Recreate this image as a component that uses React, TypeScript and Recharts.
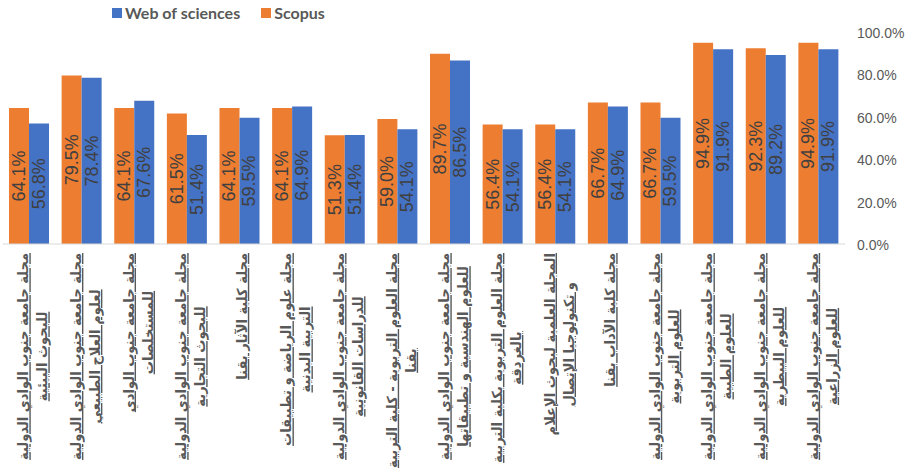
import React from "react";
import { BarChart, Bar, XAxis, YAxis, LabelList } from "recharts";

// Journal titles, one or two lines each
const journals: string[][] = [
  ["مجلة جامعة جنوب الوادي الدولية", "للبحوث البيئية"],
  ["مجلة جامعة جنوب الوادي الدولية", "لعلوم العلاج الطبيعي"],
  ["مجلة جامعة جنوب الوادي", "للمستخلصات"],
  ["مجلة جامعة جنوب الوادي الدولية", "للبحوث التجارية"],
  ["مجلة كلية الآثار بقنا"],
  ["مجلة علوم الرياضة و تطبيقات", "التربية البدنية"],
  ["مجلة جامعة جنوب الوادي الدولية", "للدراسات القانونية"],
  ["مجلة العلوم التربوية - كلية التربية", "بقنا"],
  ["مجلة جامعة جنوب الوادي الدولية", "للعلوم الهندسية و تطبيقاتها"],
  ["مجلة العلوم التربوية بكلية التربية", "بالغردقة"],
  ["المجلة العلمية لبحوث الإعلام", "و تكنولوجيا الإتصال"],
  ["مجلة كلية الآداب بقنا"],
  ["مجلة جامعة جنوب الوادي الدولية", "للعلوم التربوية"],
  ["مجلة جامعة جنوب الوادي الدولية", "للعلوم الطبية"],
  ["مجلة جامعة جنوب الوادي الدولية", "للعلوم البيطرية"],
  ["مجلة جامعة جنوب الوادي الدولية", "للعلوم الزراعية"],
];

const scopus = [64.1, 79.5, 64.1, 61.5, 64.1, 64.1, 51.3, 59.0, 89.7, 56.4, 56.4, 66.7, 66.7, 94.9, 92.3, 94.9];
const webOfSciences = [56.8, 78.4, 67.6, 51.4, 59.5, 64.9, 51.4, 54.1, 86.5, 54.1, 54.1, 64.9, 59.5, 91.9, 89.2, 91.9];
const percentTicks = [0, 10, 20, 30, 40, 50, 60, 70, 80, 90, 100];

const ORANGE = "#ED7D31";
const BLUE = "#4472C4";
const GREY_TEXT = "#595959";
const LABEL_FONT_SIZE = 14;
const LABEL_FONT_FAMILY = "'DejaVu Sans'";
// run length of the first title line along the axis
const TITLE_LINE_LENGTH = 207;

const rows = journals.map((lines, i) => ({
  name: lines.join(" "),
  scopus: scopus[i],
  wos: webOfSciences[i],
}));

let measureCtx: CanvasRenderingContext2D | null = null;
function textWidth(s: string) {
  if (!measureCtx) measureCtx = document.createElement("canvas").getContext("2d");
  if (!measureCtx) return s.length * 7;
  measureCtx.font = `bold ${LABEL_FONT_SIZE}px ${LABEL_FONT_FAMILY}`;
  return measureCtx.measureText(s).width;
}

// squeeze titles along their run so they fit under the axis
let titleScale = 0;
function getTitleScale() {
  if (!titleScale) {
    const w = textWidth(journals[0][0]);
    titleScale = w > 0 ? Math.min(1, TITLE_LINE_LENGTH / w) : 1;
  }
  return titleScale;
}

// Rotated, underlined journal title under each pair of bars
const JournalTick = ({ x, y, index }: any) => {
  const lines = journals[index] || [];
  const twoLines = lines.length > 1;
  const w1 = textWidth(lines[0] || "");
  const k = getTitleScale();
  const style = {
    fontSize: LABEL_FONT_SIZE,
    fontFamily: LABEL_FONT_FAMILY,
    fontWeight: 700,
    fill: GREY_TEXT,
    textDecoration: "underline",
  };
  return (
    <g transform={`translate(${x},${y + 1}) rotate(-90) scale(${k},1)`}>
      <text x={0} y={twoLines ? -1 : 7} textAnchor="end" style={style}>
        {lines[0]}
      </text>
      {twoLines && (
        <text x={-w1 / 2} y={18} textAnchor="middle" style={style}>
          {lines[1]}
        </text>
      )}
    </g>
  );
};

const PercentTick = ({ x, y, payload }: any) => (
  <text
    x={x}
    y={y}
    dx={4}
    dy={6}
    textAnchor="start"
    fontSize={14}
    fontFamily="'Liberation Sans', Arial, sans-serif"
    fill={GREY_TEXT}
  >
    {`${Number(payload.value).toFixed(1)}%`}
  </text>
);

// Value written sideways in the middle of the bar
const BarValue = ({ x, y, width, height, value }: any) => {
  const cx = x + width / 2;
  const cy = y + height / 2;
  return (
    <text
      x={cx}
      y={cy}
      transform={`rotate(-90 ${cx} ${cy})`}
      textAnchor="middle"
      dominantBaseline="central"
      fontSize={18}
      fontFamily="'Liberation Sans', Arial, sans-serif"
      fill="#404040"
    >
      {`${Number(value).toFixed(1)}%`}
    </text>
  );
};

const LegendItem = ({ color, label }: { color: string; label: string }) => (
  <div style={{ display: "flex", alignItems: "center", marginRight: 21 }}>
    <span style={{ width: 10, height: 10, background: color, marginRight: 3 }} />
    <span>{label}</span>
  </div>
);

export default function App() {
  return (
    <div
      style={{
        position: "absolute",
        left: 0,
        top: 0,
        width: 910,
        height: 473,
        background: "#fff",
      }}
    >
      <div
        style={{
          position: "absolute",
          left: 112,
          top: 3,
          display: "flex",
          fontFamily: "Lato, 'Open Sans', sans-serif",
          fontWeight: 700,
          fontSize: 16,
          color: GREY_TEXT,
          zIndex: 1,
        }}
      >
        <LegendItem color={BLUE} label="Web of sciences" />
        <LegendItem color={ORANGE} label="Scopus" />
      </div>
      <BarChart
        width={910}
        height={473}
        data={rows}
        margin={{ top: 32, right: 0, bottom: 0, left: 3 }}
        barGap={0}
        barSize={20}
      >
        <XAxis
          dataKey="name"
          height={229}
          interval={0}
          tickLine={false}
          axisLine={{ stroke: "#d9d9d9", strokeWidth: 1 }}
          tick={<JournalTick />}
        />
        <YAxis
          orientation="right"
          width={65}
          domain={[0, 100]}
          ticks={percentTicks}
          axisLine={false}
          tickLine={false}
          tick={<PercentTick />}
        />
        <Bar dataKey="scopus" fill={ORANGE} isAnimationActive={false}>
          <LabelList dataKey="scopus" content={<BarValue />} />
        </Bar>
        <Bar dataKey="wos" fill={BLUE} isAnimationActive={false}>
          <LabelList dataKey="wos" content={<BarValue />} />
        </Bar>
      </BarChart>
    </div>
  );
}
